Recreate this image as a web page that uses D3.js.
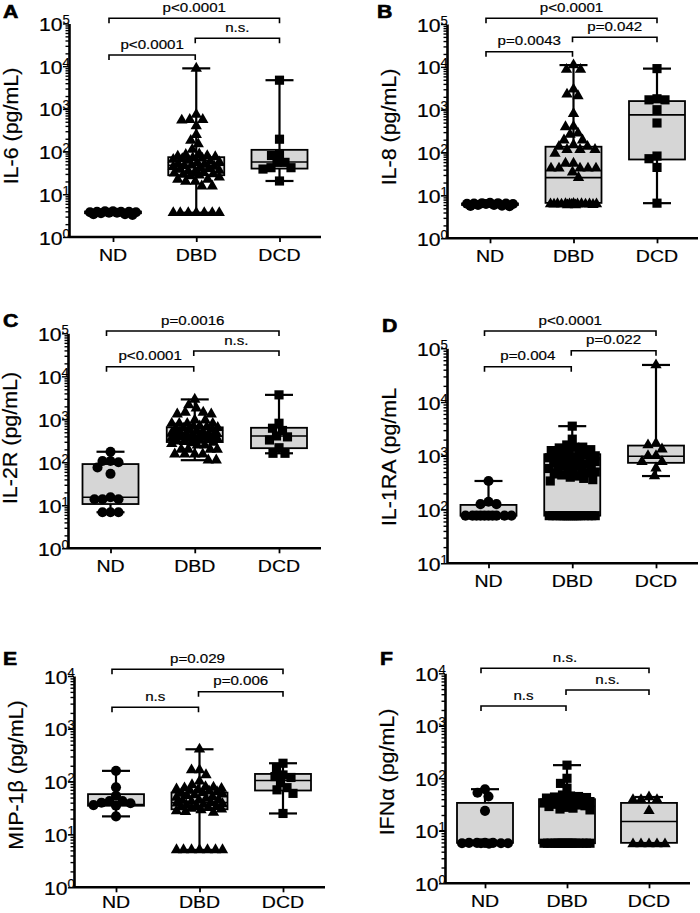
<!DOCTYPE html>
<html lang="en">
<head>
<meta charset="UTF-8" />
<title>Cytokines by donor type</title>
<script src="https://d3js.org/d3.v7.min.js"></script>
<style>
  body { margin: 0; background: #fff; }
  svg { font-family: "Liberation Sans", Arial, sans-serif; }
  .axis path, .axis line { stroke: #000; }
</style>
</head>
<body>
<script>
var groups = ["ND", "DBD", "DCD"];

// box stats per group: [min, q1, median, q3, max]
// p labels: [ND-DBD, DBD-DCD, ND-DCD]

// A  IL-6
var il6ND  = [3.8, 3.9, 4.0, 3.7, 3.9, 3.6, 3.4, 3.3, 3.4, 3.7, 3.9, 4.0, 3.8];
var il6DBD = [8900, 740, 560, 560, 540, 400, 250, 182, 150, 112,
  88, 85, 80, 78, 75, 72, 70, 68, 65, 62, 60, 57, 55, 52, 50, 48, 47, 45, 44, 42, 40, 38, 36, 35, 33, 32, 31, 30, 29, 28, 27, 25,
  22.4, 22.4, 20, 20, 15.5, 15.5,
  3.7, 3.7, 3.7, 3.7, 3.7, 3.7, 3.7];
var il6DCD = [4700, 195, 85, 81, 56, 56, 42, 42, 39, 20.5];
var il6Box = [[3.3, 3.6, 3.8, 3.95, 4.0], [3.7, 28, 48, 74, 8900], [20.5, 40, 57, 110, 4700]];
var il6P   = ["p<0.0001", "n.s.", "p<0.0001"];

// B  IL-8
var il8ND  = [6.6, 6.5, 6.4, 6.3, 6.0, 5.8, 5.6, 5.7, 6.0, 6.3, 6.5, 6.6, 6.7];
var il8DBD = [11000, 8700, 8700, 3000, 2300, 2100, 810, 407, 398, 282, 263, 195, 195, 151, 138, 138, 117, 117, 117, 95,
  56, 56, 43, 43, 43, 43, 43, 35, 26,
  6.0, 6.1, 6.2, 6.3, 6.3, 6.4, 6.2, 6.1, 6.3, 6.4, 6.5, 6.2, 6.3, 6.0, 6.4, 6.3];
var il8DCD = [9100, 1800, 1700, 1700, 1000, 490, 83, 72, 45, 6.6];
var il8Box = [[5.6, 6.0, 6.3, 6.5, 6.7], [6.0, 6.7, 26, 137, 11000], [6.6, 69, 760, 1590, 9100]];
var il8P   = ["p=0.0043", "p=0.042", "p<0.0001"];

// C  IL-2R
var il2rND  = [176, 107, 107, 100, 76, 54, 15.4, 13.8, 13.8, 13.8, 6.9, 6.9, 6.9];
var il2rDBD = [2900, 2150, 1820, 1450, 1450, 1320, 1320, 955, 955, 800, 800, 800, 800, 700, 680, 660, 640, 620, 600, 580,
  560, 540, 520, 500, 480, 460, 450, 440, 430, 420, 410, 400, 390, 380, 370, 360, 350, 340, 330, 320, 310, 300, 290, 280,
  270, 250, 250, 200, 200, 200, 200, 155, 155, 155, 155, 112, 112];
var il2rDCD = [3700, 810, 620, 550, 410, 390, 330, 218, 162, 162];
var il2rBox = [[6.9, 10.7, 15.4, 91, 176], [112, 296, 410, 650, 2900], [162, 213, 410, 635, 3700]];
var il2rP   = ["p<0.0001", "n.s.", "p=0.0016"];

// D  IL-1RA
var il1raND  = [340, 140, 126, 126, 77, 77, 77, 77, 77, 77, 77, 77, 77, 77];
var il1raDBD = [3560, 2040, 1590, 1450, 1450, 1400, 1300, 1250, 1200, 1150, 1100, 1050, 1000, 980, 950, 920, 900, 870, 850,
  800, 780, 750, 720, 700, 680, 650, 620, 600, 580, 560, 540, 520, 500, 480, 460, 440, 420, 400, 380, 360, 340,
  77, 77, 77, 77, 77, 77, 77, 77, 77, 77, 77, 77, 77, 77, 77, 77, 77, 77];
var il1raDCD = [49000, 1700, 1590, 1330, 1000, 1000, 780, 780, 590, 420];
var il1raBox = [[77, 77, 77, 122, 340], [77, 77, 560, 1070, 3560], [420, 740, 980, 1550, 49000]];
var il1raP   = ["p=0.004", "p=0.022", "p<0.0001"];

// E  MIP-1b
var mipND  = [160, 78, 54, 43, 43, 40, 39, 36, 35, 22];
var mipDBD = [410, 166, 166, 134, 102, 87, 80, 78, 76, 74, 72, 70, 68, 66, 64, 62, 60, 58, 56, 54, 52, 50, 48, 46, 45, 44,
  42, 40, 39, 38, 37, 36, 35, 34, 33, 32, 31, 30, 29, 28, 27, 26,
  5.1, 5.1, 5.1, 5.1, 5.1, 5.1, 5.1];
var mipDCD = [223, 180, 134, 125, 120, 96, 77, 70, 60, 25];
var mipBox = [[22, 35, 37, 58, 160], [5.1, 30, 40, 62, 410], [25, 68, 105, 140, 223]];
var mipP   = ["n.s", "p=0.006", "p=0.029"];

// F  IFN-alpha
var ifnND  = [62, 53, 45, 24, 5.9, 5.9, 5.8, 5.8, 5.7, 5.8, 5.8, 5.9, 5.9];
var ifnDBD = [178, 100, 80, 65, 48, 46, 45, 44, 43, 42, 41, 40, 39, 38, 37, 36, 35, 34, 33, 32, 31, 30, 29, 28, 27, 26, 25,
  5.8, 5.8, 5.8, 5.8, 5.8, 5.8, 5.8, 5.8, 5.8, 5.8, 5.8, 5.8, 5.8, 5.8, 5.8, 5.8, 5.8, 5.8];
var ifnDCD = [44, 39, 39, 39, 24, 5.6, 5.6, 5.6, 5.6, 5.6];
var ifnBox = [[5.7, 5.9, 5.9, 34, 62], [5.5, 5.8, 29, 40, 178], [5.6, 5.9, 15, 34, 44]];
var ifnP   = ["n.s", "n.s.", "n.s."];

var panels = [
  {letter: "A", lx: 3,   ly: 18,  title: "IL-6 (pg/mL)",  data: [il6ND, il6DBD, il6DCD], box: il6Box, p: il6P,
   shapes: ["circle", "triangle", "square"], x0: 69, x1: 321, yTop: 23.5, yBot: 237, lo: 1, hi: 1e5, cx: [113, 279.5],
   br: [55, 38.3, 18.3], titleY: 126},
  {letter: "B", lx: 377, ly: 18,  title: "IL-8 (pg/mL)",  data: [il8ND, il8DBD, il8DCD], box: il8Box, p: il8P,
   shapes: ["circle", "triangle", "square"], x0: 447, x1: 698, yTop: 24, yBot: 238.3, lo: 1, hi: 1e5, cx: [490, 657],
   br: [51.7, 37.3, 18.3], titleY: 127},
  {letter: "C", lx: 3,   ly: 327, title: "IL-2R (pg/mL)", data: [il2rND, il2rDBD, il2rDCD], box: il2rBox, p: il2rP,
   shapes: ["circle", "triangle", "square"], x0: 68, x1: 321, yTop: 333.3, yBot: 548.3, lo: 1, hi: 1e5, cx: [110.5, 279],
   br: [366.7, 351, 331], titleY: 438},
  {letter: "D", lx: 382, ly: 332, title: "IL-1RA (pg/mL", data: [il1raND, il1raDBD, il1raDCD], box: il1raBox, p: il1raP,
   shapes: ["circle", "square", "triangle"], x0: 447, x1: 698, yTop: 348.3, yBot: 563.3, lo: 10, hi: 1e5, cx: [488.5, 656],
   br: [366.7, 350.7, 331], titleY: 457},
  {letter: "E", lx: 3,   ly: 665, title: "MIP-1β (pg/mL)", data: [mipND, mipDBD, mipDCD], box: mipBox, p: mipP,
   shapes: ["circle", "triangle", "square"], x0: 74, x1: 325, yTop: 676, yBot: 887.3, lo: 1, hi: 1e4, cx: [116, 283],
   br: [707.3, 691.7, 669.3], titleY: 775},
  {letter: "F", lx: 380, ly: 665, title: "IFNα (pg/mL)", data: [ifnND, ifnDBD, ifnDCD], box: ifnBox, p: ifnP,
   shapes: ["circle", "square", "triangle"], x0: 445, x1: 690, yTop: 673.3, yBot: 883.3, lo: 1, hi: 1e4, cx: [485, 649],
   br: [706, 690, 668.3], titleY: 772}
];

var svg = d3.select("body").append("svg")
  .attr("width", 700)
  .attr("height", 913);

var symbols = {
  circle: d3.symbol().type(d3.symbolCircle).size(80),
  square: d3.symbol().type(d3.symbolSquare).size(84),
  triangle: d3.symbol().type(d3.symbolTriangle).size(56)
};

// text drawn with a horizontal stretch, like the source figure
function label(g, x, y, s, size, anchor, sx, rot, weight) {
  var t = "translate(" + x + "," + y + ")" + (rot ? " rotate(" + rot + ")" : "") + " scale(" + sx + ",1)";
  return g.append("text")
    .attr("transform", t)
    .attr("font-size", size)
    .attr("font-weight", weight || "normal")
    .attr("text-anchor", anchor)
    .attr("fill", "#000")
    .attr("stroke", "#000")
    .attr("stroke-width", weight ? 0.6 : 0.2)
    .text(s);
}

// simple beeswarm: closest free spot to the centre, else the least crowded one
function swarm(values, y, W, d) {
  var pts = values.map(function(v) { return {v: v, y: y(v), dx: 0}; });
  var order = pts.slice().sort(function(a, b) { return a.y - b.y; });
  var placed = [];
  order.forEach(function(p) {
    var best = 0, bestScore = -Infinity;
    for (var x = -W; x <= W + 0.001; x += 0.5) {
      var m = Infinity;
      placed.forEach(function(q) {
        var dd = Math.hypot(x - q.dx, p.y - q.y);
        if (dd < m) m = dd;
      });
      var score = Math.min(m, d) * 1000 - Math.abs(x);
      if (score > bestScore) { bestScore = score; best = x; }
    }
    p.dx = best;
    placed.push(p);
  });
  return pts;
}

function isMajor(v) {
  var l = Math.log10(v);
  return Math.abs(l - Math.round(l)) < 1e-6;
}

panels.forEach(function(cfg) {
  var y = d3.scaleLog().domain([cfg.lo, cfg.hi]).range([cfg.yBot, cfg.yTop]);
  var x = d3.scalePoint().domain(groups).range(cfg.cx);
  var g = svg.append("g");
  var anchorShift = [-4, -1, 0];

  // boxes, whiskers, points
  groups.forEach(function(grp, i) {
    var b = cfg.box[i], cx = x(grp);
    var hb = 28, hc = 14;
    g.append("rect")
      .attr("x", cx - hb).attr("width", hb * 2)
      .attr("y", y(b[3])).attr("height", Math.max(0.5, y(b[1]) - y(b[3])))
      .attr("fill", "#d6d6d6").attr("stroke", "#000").attr("stroke-width", 1.8);
    g.append("line").attr("x1", cx).attr("x2", cx).attr("y1", y(b[4])).attr("y2", y(b[3]))
      .attr("stroke", "#000").attr("stroke-width", 2.2);
    g.append("line").attr("x1", cx).attr("x2", cx).attr("y1", y(b[1])).attr("y2", y(b[0]))
      .attr("stroke", "#000").attr("stroke-width", 2.2);
    [b[0], b[4]].forEach(function(v) {
      g.append("line").attr("x1", cx - hc).attr("x2", cx + hc).attr("y1", y(v)).attr("y2", y(v))
        .attr("stroke", "#000").attr("stroke-width", 2.2);
    });
    g.append("line").attr("x1", cx - hb).attr("x2", cx + hb).attr("y1", y(b[2])).attr("y2", y(b[2]))
      .attr("stroke", "#000").attr("stroke-width", 1.6);

    var pts = swarm(cfg.data[i], y, 23, 8);
    g.append("g").selectAll("path")
      .data(pts)
      .enter().append("path")
        .attr("d", symbols[cfg.shapes[i]])
        .attr("transform", function(d) { return "translate(" + (cx + d.dx) + "," + d.y + ")"; })
        .attr("fill", "#000");
  });

  // y axis with log minor ticks
  var ticks = y.ticks();
  var yAxis = g.append("g").attr("class", "axis")
    .attr("transform", "translate(" + cfg.x0 + ",0)")
    .call(d3.axisLeft(y).tickValues(ticks).tickFormat("").tickSizeOuter(0).tickSizeInner(3.5));
  yAxis.select(".domain").attr("stroke-width", 2.6);
  yAxis.selectAll(".tick line")
    .attr("stroke-width", 1.4)
    .attr("x2", function(d) { return isMajor(d) ? -6 : -3.5; });

  ticks.filter(isMajor).forEach(function(t) {
    var ty = y(t);
    label(g, cfg.x0 - 6.5, ty + 7.5, "10", 18, "end", 1.18);
    label(g, cfg.x0 - 6.5, ty + 0.5, String(Math.round(Math.log10(t))), 12.5, "start", 1.05);
  });

  // x axis
  g.append("line")
    .attr("x1", cfg.x0).attr("x2", cfg.x1).attr("y1", cfg.yBot).attr("y2", cfg.yBot)
    .attr("stroke", "#000").attr("stroke-width", 2.6);
  var xAxis = g.append("g").attr("class", "axis")
    .attr("transform", "translate(0," + cfg.yBot + ")")
    .call(d3.axisBottom(x).tickFormat("").tickSizeOuter(0).tickSize(5));
  xAxis.select(".domain").remove();
  xAxis.selectAll(".tick line").attr("stroke-width", 1.8);
  var catY = Math.min(cfg.yBot + 23.5, 908);
  groups.forEach(function(grp) {
    label(g, x(grp), catY, grp, 17, "middle", 1.15);
  });

  // y title and panel letter
  label(g, cfg.x0 - 51, cfg.titleY, cfg.title, 19.5, "middle", 1.1, -90);
  label(g, cfg.lx, cfg.ly, cfg.letter, 18, "start", 1.18, 0, "bold");

  // significance brackets
  var pairs = [[0, 1], [1, 2], [0, 2]];
  pairs.forEach(function(pr, k) {
    var xa = x(groups[pr[0]]) + anchorShift[pr[0]];
    var xb = x(groups[pr[1]]) + anchorShift[pr[1]];
    var by = cfg.br[k];
    g.append("path")
      .attr("d", "M" + xa + "," + (by + 5) + "V" + by + "H" + xb + "V" + (by + 5))
      .attr("fill", "none").attr("stroke", "#000").attr("stroke-width", 1.6);
    label(g, (xa + xb) / 2, by - 6.5, cfg.p[k], 13.5, "middle", 1.12);
  });
});
</script>
</body>
</html>
